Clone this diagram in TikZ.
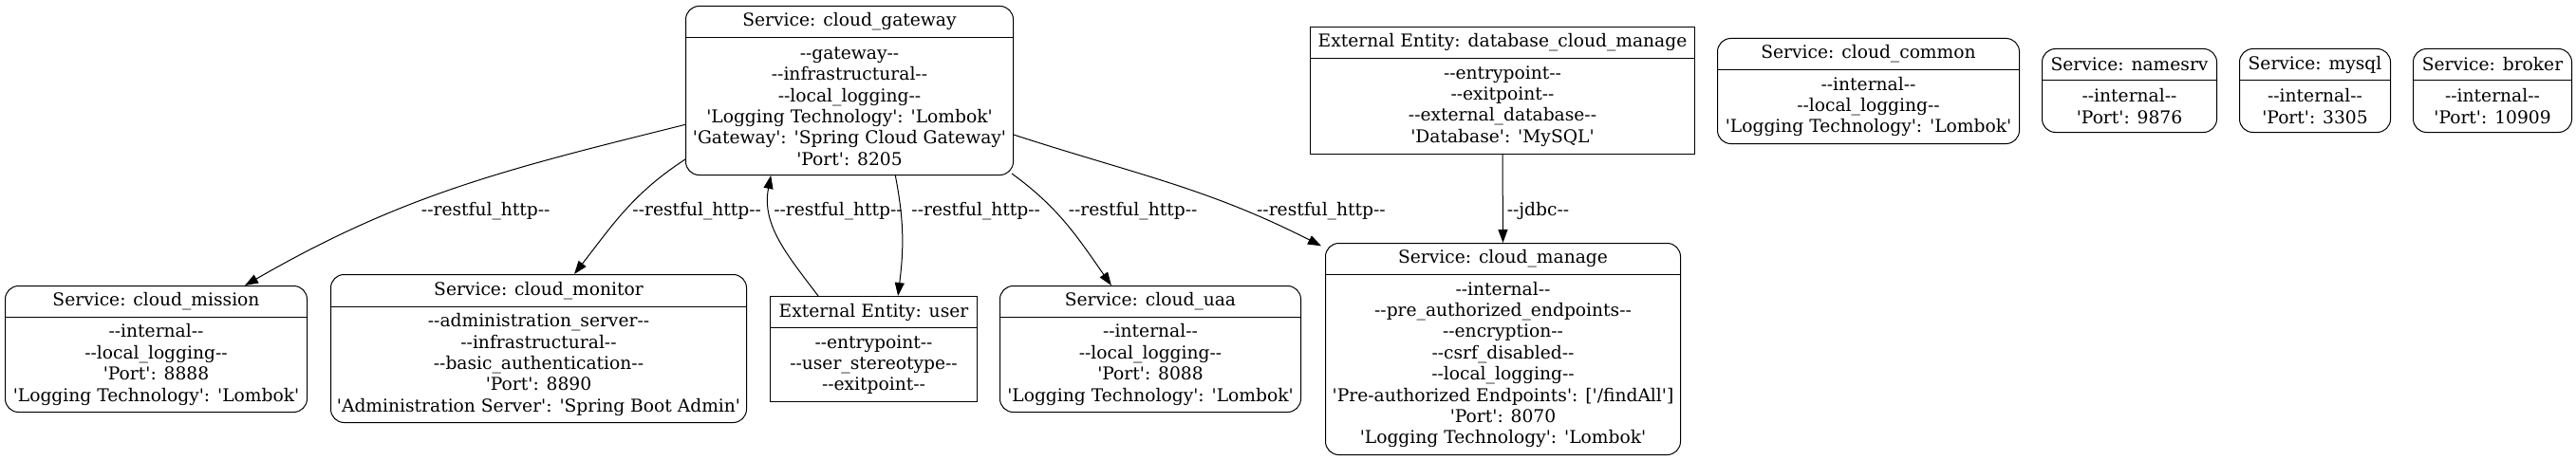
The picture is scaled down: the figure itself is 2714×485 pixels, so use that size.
\documentclass[tikz,border=0pt]{standalone}
\usepackage{fontspec}
\setmainfont{DejaVu Serif}[Ligatures=TeXOff]
\usetikzlibrary{arrows.meta,fit,calc}
\tikzset{
  svc/.style={draw, rounded corners=10.5pt, inner sep=0pt, line width=0.75pt},
  ext/.style={draw, inner sep=0pt, line width=0.75pt},
  sepl/.style={line width=0.75pt},
  txt/.style={inner sep=0pt, font=\fontsize{14}{16.8}\selectfont, align=center},
  lbl/.style={inner sep=0pt, font=\fontsize{14}{16.8}\selectfont, anchor=base},
  flow/.style={line width=0.75pt, -{Triangle[length=10.5pt,width=7.5pt]}},
}
% #1 name, #2 style, #3 x1, #4 y1, #5 x2, #6 y2, #7 separator y, #8 title, #9 body
\newcommand\entbox[9]{%
  \node[#2, fit={(#3,#4) (#5,#6)}] (#1) {};
  \draw[sepl] (#3,#7) -- (#5,#7);
  \node[txt] (#1-t) at ({(#3+#5)/2},{(#4+#7)/2}) {#8};
  \node[txt] (#1-b) at ({(#3+#5)/2},{(#7+#6)/2}) {#9};
}
\begin{document}
\begin{tikzpicture}[x=0.75pt, y=-0.75pt]
\useasboundingbox (0,0) rectangle (2714,485);

\entbox{gw}{svc}{722.5}{6.5}{1067.5}{184.5}{39.5}{Service: cloud\_gateway}{--gateway--\\--infrastructural--\\--local\_logging--\\'Logging Technology': 'Lombok'\\'Gateway': 'Spring Cloud Gateway'\\'Port': 8205}
\entbox{mission}{svc}{5.5}{301.5}{323.5}{434.5}{334.5}{Service: cloud\_mission}{--internal--\\--local\_logging--\\'Port': 8888\\'Logging Technology': 'Lombok'}
\entbox{monitor}{svc}{348.5}{289.5}{786.5}{445.5}{323.5}{Service: cloud\_monitor}{--administration\_server--\\--infrastructural--\\--basic\_authentication--\\'Port': 8890\\'Administration Server': 'Spring Boot Admin'}
\entbox{user}{ext}{811.5}{312.5}{1029.5}{423.5}{345.5}{External Entity: user}{--entrypoint--\\--user\_stereotype--\\--exitpoint--}
\entbox{uaa}{svc}{1053.5}{301.5}{1370.5}{434.5}{334.5}{Service: cloud\_uaa}{--internal--\\--local\_logging--\\'Port': 8088\\'Logging Technology': 'Lombok'}
\entbox{manage}{svc}{1396.5}{256.5}{1770.5}{479.5}{289.5}{Service: cloud\_manage}{--internal--\\--pre\_authorized\_endpoints--\\--encryption--\\--csrf\_disabled--\\--local\_logging--\\'Pre-authorized Endpoints': ['/findAll']\\'Port': 8070\\'Logging Technology': 'Lombok'}
\entbox{db}{ext}{1380.5}{28.5}{1785.5}{162.5}{61.5}{External Entity: database\_cloud\_manage}{--entrypoint--\\--exitpoint--\\--external\_database--\\'Database': 'MySQL'}
\entbox{common}{svc}{1809.5}{40.5}{2127.5}{151.5}{73.5}{Service: cloud\_common}{--internal--\\--local\_logging--\\'Logging Technology': 'Lombok'}
\entbox{namesrv}{svc}{2151.5}{51.5}{2335.5}{139.5}{84.5}{Service: namesrv}{--internal--\\'Port': 9876}
\entbox{mysql}{svc}{2359.5}{51.5}{2518.5}{139.5}{84.5}{Service: mysql}{--internal--\\'Port': 3305}
\entbox{broker}{svc}{2542.5}{51.5}{2709.5}{139.5}{84.5}{Service: broker}{--internal--\\'Port': 10909}

\draw[flow] ($(gw.west)+(0,35.85)$) to[out=194,in=30] ($(mission.north)+(93.5,0)$);
\draw[flow] ($(gw.west)+(0,72.5)$) to[out=213,in=52] ($(monitor.north)+(37.5,0)$);
\draw[flow] ($(user.north)+(-58.5,0)$) to[out=127,in=259] ($(gw.south)+(-82.8,0)$);
\draw[flow] ($(gw.south)+(48.3,0)$) to[out=281,in=83] ($(user.north)+(25.6,0)$);
\draw[flow] ($(gw.south east)+(-2,-2)$) to[out=324,in=125] ($(uaa.north)+(-41.1,0)$);
\draw[flow] ($(gw.east)+(0,46.55)$) to[out=342,in=153] ($(manage.north west)+(-4,3.3)$);
\draw[flow] (db.south) -- (manage.north);

\node[lbl] (l1) at (511.7,227.3) {--restful\_http--};
\node[lbl] (l2) at (734.2,227.3) {--restful\_http--};
\node[lbl] (l3) at (883,227.3) {--restful\_http--};
\node[lbl] (l4) at (1028.2,227.3) {--restful\_http--};
\node[lbl] (l5) at (1193.6,227.3) {--restful\_http--};
\node[lbl] (l6) at (1391.9,227.3) {--restful\_http--};
\node[lbl] (l7) at (1620.5,227.3) {--jdbc--};
\end{tikzpicture}
\end{document}
